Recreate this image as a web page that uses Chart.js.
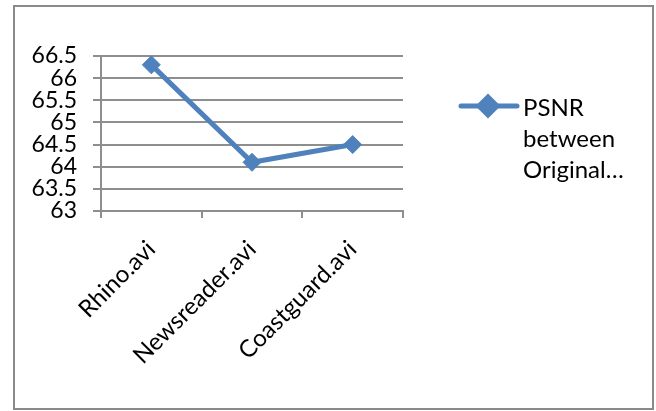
<!DOCTYPE html>
<html>
<head>
<meta charset="utf-8">
<script src="https://cdn.jsdelivr.net/npm/chart.js@4.4.1/dist/chart.umd.min.js"></script>
<style>
  html, body { margin: 0; padding: 0; background: #ffffff; }
  #wrap { position: relative; width: 656px; height: 411px; }
</style>
</head>
<body>
<div id="wrap"><canvas id="chart" width="656" height="411"></canvas></div>
<script>
// Video clips and their PSNR values
const categories = ['Rhino.avi', 'Newsreader.avi', 'Coastguard.avi'];
const psnrValues = [66.3, 64.1, 64.5];
const seriesLabel = 'PSNR between Original…';
const legendLines = ['PSNR', 'between', 'Original…'];
const yMin = 63;
const yMax = 66.5;
const yStep = 0.5;

const BLUE = '#4F81BD';
const GRID = '#8e8e8e';
const FONT = 'Lato';

// Outer frame around the whole chart
const framePlugin = {
  id: 'frame',
  afterDraw(chart) {
    const ctx = chart.ctx;
    ctx.save();
    ctx.strokeStyle = '#8a8a8a';
    ctx.lineWidth = 2;
    ctx.strokeRect(14, 6, 639, 403);
    ctx.restore();
  }
};

// Legend to the right of the plot: line with diamond marker and wrapped label
const sideLegend = {
  id: 'sideLegend',
  afterDraw(chart) {
    const ctx = chart.ctx;
    const area = chart.chartArea;
    const x0 = area.right + 58;
    const y0 = area.top + 50;
    ctx.save();
    ctx.strokeStyle = BLUE;
    ctx.lineWidth = 5;
    ctx.lineCap = 'round';
    ctx.beginPath();
    ctx.moveTo(x0, y0);
    ctx.lineTo(x0 + 56, y0);
    ctx.stroke();
    ctx.fillStyle = BLUE;
    Chart.helpers.drawPoint(ctx, { pointStyle: 'rectRot', radius: 9, borderWidth: 1 }, x0 + 27, y0);
    ctx.fill();
    ctx.fillStyle = '#000000';
    ctx.font = '24px ' + FONT;
    ctx.textAlign = 'left';
    ctx.textBaseline = 'alphabetic';
    legendLines.forEach((line, i) => {
      ctx.fillText(line, x0 + 62, y0 + 10 + i * 31);
    });
    ctx.restore();
  }
};

new Chart(document.getElementById('chart'), {
  type: 'line',
  data: {
    labels: categories,
    datasets: [{
      label: seriesLabel,
      data: psnrValues,
      borderColor: BLUE,
      backgroundColor: BLUE,
      borderWidth: 5,
      tension: 0,
      pointStyle: 'rectRot',
      pointRadius: 9,
      pointHoverRadius: 9,
      pointBorderWidth: 1,
      pointBackgroundColor: BLUE,
      pointBorderColor: BLUE
    }]
  },
  options: {
    responsive: false,
    animation: false,
    events: [],
    layout: { padding: { left: 0, top: 56, right: 253, bottom: 0 } },
    plugins: {
      legend: { display: false },
      tooltip: { enabled: false }
    },
    scales: {
      x: {
        offset: true,
        grid: {
          offset: true,
          drawOnChartArea: false,
          drawTicks: true,
          tickLength: 7,
          color: GRID,
          lineWidth: 2
        },
        border: { display: true, color: GRID, width: 2 },
        ticks: {
          autoSkip: false,
          minRotation: 45,
          maxRotation: 45,
          padding: 17,
          color: '#000000',
          font: { family: FONT, size: 24 }
        },
        afterFit(scale) { scale.height = 200; }
      },
      y: {
        min: yMin,
        max: yMax,
        grid: {
          color: GRID,
          lineWidth: 2,
          tickLength: 8
        },
        border: { display: true, color: GRID, width: 2 },
        ticks: {
          autoSkip: false,
          stepSize: yStep,
          padding: 16,
          color: '#000000',
          font: { family: FONT, size: 23 },
          callback: (v) => String(v)
        },
        afterFit(scale) { scale.width = 101; }
      }
    }
  },
  plugins: [framePlugin, sideLegend]
});
</script>
</body>
</html>
